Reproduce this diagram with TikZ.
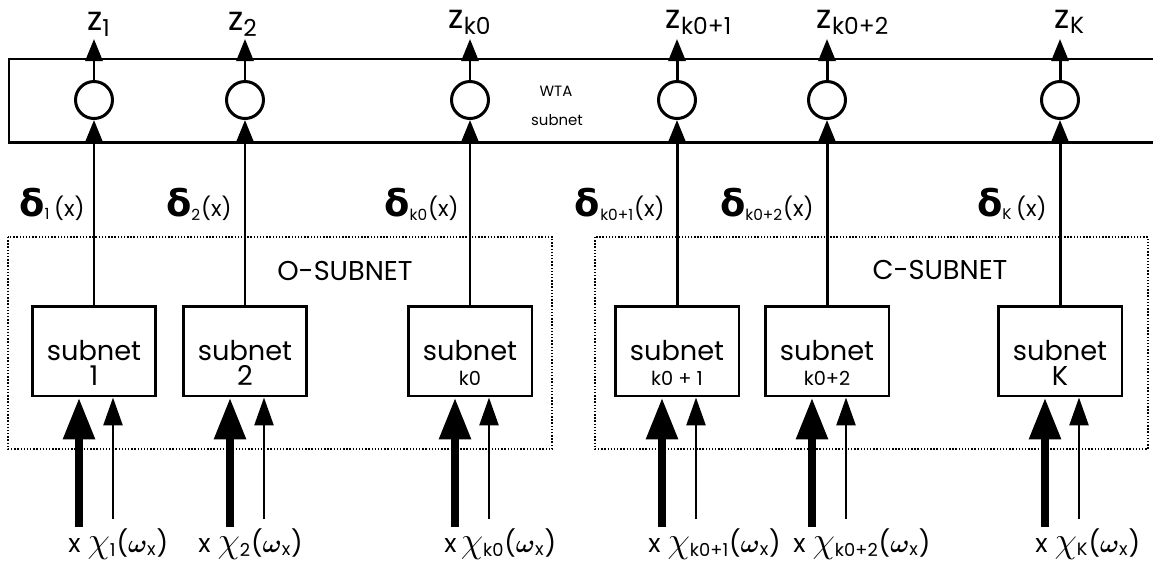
\documentclass[tikz,border=0pt]{standalone}
\usepackage{fontspec}
\usepackage{bm}
\setmainfont{Poppins}
\newfontfamily\grk{DejaVu Sans}
\usetikzlibrary{arrows.meta}

\begin{document}
\begin{tikzpicture}[
  x=0.02cm, y=-0.02cm,
  >=Triangle,
  wta line/.style={line width=1.7pt},
  neuron/.style={
    draw,
    circle,
    line width=1.7pt,
    minimum size=0.74cm,
    inner sep=0pt
  },
  sub box/.style={
    draw,
    line width=1.7pt,
    minimum width=2.48cm,
    minimum height=1.8cm,
    inner sep=0pt
  },
  sub text/.style={
    align=center,
    inner sep=0pt,
    font=\fontsize{15.5}{14}\selectfont
  },
  out arrow/.style={
    -{Triangle[width=0.34cm, length=0.44cm]},
    line width=1.7pt
  },
  thick in/.style={
    -{Triangle[width=0.6cm, length=0.84cm]},
    line width=5pt
  },
  thin in/.style={
    -{Triangle[width=0.38cm, length=0.56cm]},
    line width=1.5pt
  },
  group frame/.style={densely dotted, line width=0.8pt},
  group text/.style={font=\fontsize{15.5}{18}\selectfont},
  small text/.style={inner sep=0pt, font=\fontsize{8.5}{10}\selectfont},
  z text/.style={inner sep=0pt, font=\fontsize{19}{22}\selectfont},
  delta text/.style={inner sep=0pt, font=\fontsize{12.5}{15}\selectfont},
  in text/.style={inner sep=0pt, font=\fontsize{14.5}{17}\selectfont}
]
\useasboundingbox (0,0) rectangle (1153,562);

% WTA band
\draw[wta line] (1153,59) -- (9,59) -- (9,142) -- (1153,142);
\node[small text] (wta) at (556,91) {WTA};
\node[small text] (wtasub) at (557,120) {subnet};

% dotted groups
\draw[group frame] (8,237) rectangle (552,449);
\draw[group frame] (595,237) rectangle (1148,449);
\node[group text] (osub) at (345,271) {O-SUBNET};
\node[group text] (csub) at (940,270) {C-SUBNET};

% one column per class
\foreach \i/\cx in {1/94, 2/245, 3/470, 4/677, 5/827, 6/1060} {
  \node[neuron] (n\i) at (\cx,100) {};
  \node[sub box] (s\i) at (\cx,351) {};
  \coordinate (z\i) at (\cx,39);
  \coordinate (xin\i) at (\cx-15,527);
  \coordinate (cin\i) at (\cx+19,519);
  \draw[out arrow] (s\i) -- (n\i);
  \draw[out arrow] (n\i) -- (z\i);
  \draw[thick in] (xin\i) -- (xin\i |- s\i.south);
  \draw[thin in] (cin\i) -- (cin\i |- s\i.south);
}

% box texts
\node[sub text] (t1) at ([yshift=-0.24cm]s1.center) {subnet\\1};
\node[sub text] (t2) at ([yshift=-0.24cm]s2.center) {subnet\\2};
\node[sub text] (t3) at ([yshift=-0.24cm]s3.center) {subnet\\{\fontsize{11}{12}\selectfont k0}};
\node[sub text] (t4) at ([yshift=-0.24cm]s4.center) {subnet\\{\fontsize{11}{12}\selectfont k0 + 1}};
\node[sub text] (t5) at ([yshift=-0.24cm]s5.center) {subnet\\{\fontsize{11}{12}\selectfont k0+2}};
\node[sub text] (t6) at ([yshift=-0.24cm]s6.center) {subnet\\K};

% outputs
\node[z text, anchor=base] (zl1) at (99,30) {z\textsubscript{1}};
\node[z text, anchor=base] (zl2) at (243,30) {z\textsubscript{2}};
\node[z text, anchor=base] (zl3) at (470,28) {z\textsubscript{k0}};
\node[z text, anchor=base] (zl4) at (699,28) {z\textsubscript{k0+1}};
\node[z text, anchor=base] (zl5) at (853,28) {z\textsubscript{k0+2}};
\node[z text, anchor=base] (zl6) at (1070,28) {z\textsubscript{K}};

% subnet outputs
\node[delta text, anchor=base east] (d1) at (85,216) {{\fontsize{21}{24}\grk\bfseries δ}\textsubscript{1}\,(x)};
\node[delta text, anchor=base east] (d2) at (232,216) {{\fontsize{21}{24}\grk\bfseries δ}\textsubscript{2}(x)};
\node[delta text, anchor=base east] (d3) at (459,216) {{\fontsize{21}{24}\grk\bfseries δ}\textsubscript{k0}(x)};
\node[delta text, anchor=base east] (d4) at (665,216) {{\fontsize{21}{24}\grk\bfseries δ}\textsubscript{k0+1}(x)};
\node[delta text, anchor=base east] (d5) at (814,216) {{\fontsize{21}{24}\grk\bfseries δ}\textsubscript{k0+2}(x)};
\node[delta text, anchor=base east] (d6) at (1047,216) {{\fontsize{21}{24}\grk\bfseries δ}\textsubscript{K}\,(x)};

% inputs
\node[in text, anchor=base west] (x1) at (68,552) {x\;{\fontsize{22}{24}\selectfont$\chi$}\textsubscript{1}($\bm{\omega}$\textsubscript{x})};
\node[in text, anchor=base west] (x2) at (198,552) {x\;{\fontsize{22}{24}\selectfont$\chi$}\textsubscript{2}($\bm{\omega}$\textsubscript{x})};
\node[in text, anchor=base west] (x3) at (444,552) {x\,{\fontsize{22}{24}\selectfont$\chi$}\textsubscript{k0}($\bm{\omega}$\textsubscript{x})};
\node[in text, anchor=base west] (x4) at (648,552) {x\;{\fontsize{22}{24}\selectfont$\chi$}\textsubscript{k0+1}($\bm{\omega}$\textsubscript{x})};
\node[in text, anchor=base west] (x5) at (793,552) {x\;{\fontsize{22}{24}\selectfont$\chi$}\textsubscript{k0+2}($\bm{\omega}$\textsubscript{x})};
\node[in text, anchor=base west] (x6) at (1035,552) {x\;{\fontsize{22}{24}\selectfont$\chi$}\textsubscript{K}($\bm{\omega}$\textsubscript{x})};

\end{tikzpicture}
\end{document}
